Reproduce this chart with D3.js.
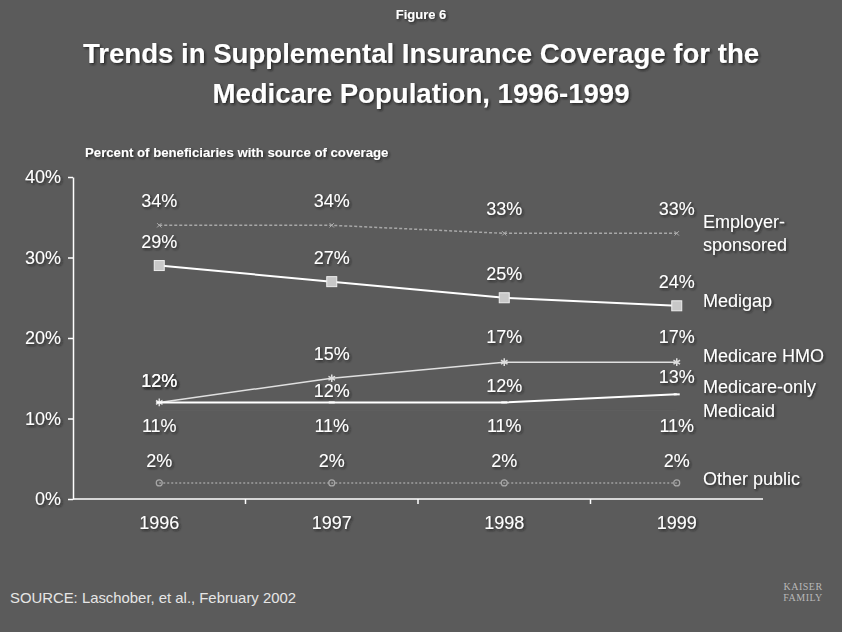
<!DOCTYPE html>
<html>
<head>
<meta charset="utf-8">
<script src="https://cdn.jsdelivr.net/npm/d3@7/dist/d3.min.js"></script>
<style>
  html, body { margin: 0; padding: 0; background: #5b5b5b; }
  svg { display: block; font-family: "Liberation Sans", Arial, sans-serif; }
</style>
</head>
<body>
<svg id="chart" width="842" height="632"></svg>
<script>
// Years on the x axis
const years = ["1996", "1997", "1998", "1999"];

// Percent of beneficiaries with each source of coverage
const employerSponsored = [34, 34, 33, 33];
const medigap = [29, 27, 25, 24];
const medicareHMO = [12, 15, 17, 17];
const medicareOnly = [12, 12, 12, 13];
const medicaid = [11, 11, 11, 11];
const otherPublic = [2, 2, 2, 2];

// Series names as shown at the right end of each line
const seriesNames = [
  ["Employer-", "sponsored"],
  ["Medigap"],
  ["Medicare HMO"],
  ["Medicare-only"],
  ["Medicaid"],
  ["Other public"]
];

// Y axis tick values
const yTicks = [0, 10, 20, 30, 40];

const seriesValues = [employerSponsored, medigap, medicareHMO, medicareOnly, medicaid, otherPublic];

// Drawing styles for each series
const styles = [
  { stroke: "#a8a8a8", width: 1.5, dash: "3,2", marker: "x",      labelDy: [-18, -18, -18, -18], nameY: 228 },
  { stroke: "#ffffff", width: 2,   dash: null,  marker: "square", labelDy: [-18, -18, -18, -18], nameY: 307 },
  { stroke: "#e0e0e0", width: 1.5, dash: null,  marker: "star",   labelDy: [-15, -18, -19, -19], nameY: 362 },
  { stroke: "#ffffff", width: 2,   dash: null,  marker: "tick",   labelDy: [-15, -5, -10, -11],  nameY: 393 },
  { stroke: "#5f5f5f", width: 1,   dash: null,  marker: "none",   labelDy: [22, 22, 22, 22],     nameY: 417 },
  { stroke: "#a0a0a0", width: 1.5, dash: "2,2", marker: "circle", labelDy: [-16, -16, -16, -16], nameY: 485 }
];

const svg = d3.select("#chart");
const W = 842, H = 632;

// Soft dark shadow behind text
const defs = svg.append("defs");
const shadow = defs.append("filter").attr("id", "shadow")
  .attr("x", "-10%").attr("y", "-20%").attr("width", "130%").attr("height", "160%");
shadow.append("feDropShadow").attr("dx", 1.5).attr("dy", 1.5)
  .attr("stdDeviation", 0.8).attr("flood-color", "#1a1a1a").attr("flood-opacity", 0.8);

svg.append("rect").attr("width", W).attr("height", H).attr("fill", "#5b5b5b");

const plotLeft = 73, plotRight = 763, plotTop = 177, plotBottom = 499;

const x = d3.scalePoint().domain(years).range([plotLeft, plotRight]).padding(0.5);
const y = d3.scaleLinear().domain([0, 40]).range([plotBottom, plotTop]);

// Titles
svg.append("text").attr("x", W / 2).attr("y", 19)
  .attr("text-anchor", "middle").attr("fill", "#ffffff")
  .attr("font-size", 13).attr("font-weight", "bold")
  .attr("filter", "url(#shadow)")
  .text("Figure 6");

const titleLines = ["Trends in Supplemental Insurance Coverage for the", "Medicare Population, 1996-1999"];
svg.append("g").selectAll("text").data(titleLines).join("text")
  .attr("x", W / 2).attr("y", (d, i) => 63 + i * 40)
  .attr("text-anchor", "middle").attr("fill", "#ffffff")
  .attr("font-size", 27.6).attr("font-weight", "bold")
  .attr("filter", "url(#shadow)")
  .text(d => d);

svg.append("text").attr("x", 85).attr("y", 157)
  .attr("fill", "#ffffff").attr("font-size", 13.2).attr("font-weight", "bold")
  .attr("filter", "url(#shadow)")
  .text("Percent of beneficiaries with source of coverage");

// Y axis
const yAxis = d3.axisLeft(y).tickValues(yTicks).tickFormat(d => d + "%")
  .tickSize(5).tickSizeOuter(0).tickPadding(7);
const gy = svg.append("g").attr("transform", `translate(${plotLeft},0)`).call(yAxis);
gy.select(".domain").attr("stroke", "#ffffff").attr("stroke-width", 1.5);
gy.selectAll(".tick line").attr("stroke", "#ffffff").attr("stroke-width", 1.5);
gy.selectAll(".tick text").attr("fill", "#ffffff").attr("font-size", 18)
  .attr("font-family", "Liberation Sans, Arial, sans-serif")
  .attr("filter", "url(#shadow)");

// X axis: baseline with ticks between year positions
const gx = svg.append("g").attr("transform", `translate(0,${plotBottom})`);
gx.append("line").attr("x1", plotLeft).attr("x2", plotRight).attr("y1", 0).attr("y2", 0)
  .attr("stroke", "#ffffff").attr("stroke-width", 1.5);
const step = x.step();
const boundaries = d3.range(1, years.length).map(i => x(years[i]) - step / 2);
gx.selectAll("line.sep").data(boundaries).join("line").attr("class", "sep")
  .attr("x1", d => d).attr("x2", d => d).attr("y1", 0).attr("y2", 5)
  .attr("stroke", "#ffffff").attr("stroke-width", 1.5);
gx.selectAll("text").data(years).join("text")
  .attr("x", d => x(d)).attr("y", 30)
  .attr("text-anchor", "middle").attr("fill", "#ffffff").attr("font-size", 18)
  .attr("filter", "url(#shadow)")
  .text(d => d);

// Lines
const line = d3.line().x((d, i) => x(years[i])).y(d => y(d));
seriesValues.forEach((vals, s) => {
  const st = styles[s];
  svg.append("path").datum(vals)
    .attr("d", line).attr("fill", "none")
    .attr("stroke", st.stroke).attr("stroke-width", st.width)
    .attr("stroke-dasharray", st.dash);
});

// Markers
seriesValues.forEach((vals, s) => {
  const st = styles[s];
  const g = svg.append("g");
  vals.forEach((v, i) => {
    const cx = x(years[i]), cy = y(v);
    if (st.marker === "square") {
      g.append("rect").attr("x", cx - 5).attr("y", cy - 5).attr("width", 10).attr("height", 10)
        .attr("fill", "#c8c8c8").attr("stroke", "#eeeeee").attr("stroke-width", 1);
    } else if (st.marker === "star") {
      g.append("path").attr("d", d3.symbol().type(d3.symbolAsterisk).size(40)())
        .attr("transform", `translate(${cx},${cy})`)
        .attr("fill", "none").attr("stroke", "#dddddd").attr("stroke-width", 1.5);
    } else if (st.marker === "x") {
      g.append("path").attr("d", d3.symbol().type(d3.symbolX).size(14)())
        .attr("transform", `translate(${cx},${cy})`)
        .attr("fill", "none").attr("stroke", "#b0b0b0").attr("stroke-width", 1);
    } else if (st.marker === "circle") {
      g.append("circle").attr("cx", cx).attr("cy", cy).attr("r", 3)
        .attr("fill", "none").attr("stroke", "#a8a8a8").attr("stroke-width", 1.2);
    } else if (st.marker === "tick") {
      g.append("line").attr("x1", cx - 3).attr("x2", cx + 3).attr("y1", cy).attr("y2", cy)
        .attr("stroke", "#ffffff").attr("stroke-width", 2);
    }
  });
});

// Value labels
seriesValues.forEach((vals, s) => {
  const st = styles[s];
  svg.append("g").selectAll("text").data(vals).join("text")
    .attr("x", (d, i) => x(years[i]))
    .attr("y", (d, i) => y(d) + st.labelDy[i])
    .attr("text-anchor", "middle").attr("fill", "#ffffff").attr("font-size", 18)
    .attr("filter", "url(#shadow)")
    .text(d => d + "%");
});

// Series names
seriesNames.forEach((lines, s) => {
  svg.append("g").selectAll("text").data(lines).join("text")
    .attr("x", 703).attr("y", (d, i) => styles[s].nameY + i * 23)
    .attr("fill", "#ffffff").attr("font-size", 18)
    .attr("filter", "url(#shadow)")
    .text(d => d);
});

// Source note
svg.append("text").attr("x", 10).attr("y", 603)
  .attr("fill", "#e6e6e6").attr("font-size", 14.5)
  .attr("textLength", 286).attr("lengthAdjust", "spacingAndGlyphs")
  .text("SOURCE:  Laschober, et al., February 2002");

// Foundation mark
const logo = svg.append("g").attr("fill", "#b8b8b8")
  .attr("font-family", "Liberation Serif, Times New Roman, serif").attr("font-size", 10)
  .attr("text-anchor", "middle");
logo.append("text").attr("x", 803).attr("y", 590).attr("letter-spacing", 0.5).text("KAISER");
logo.append("text").attr("x", 803).attr("y", 601).attr("letter-spacing", 0.5).text("FAMILY");
</script>
</body>
</html>
